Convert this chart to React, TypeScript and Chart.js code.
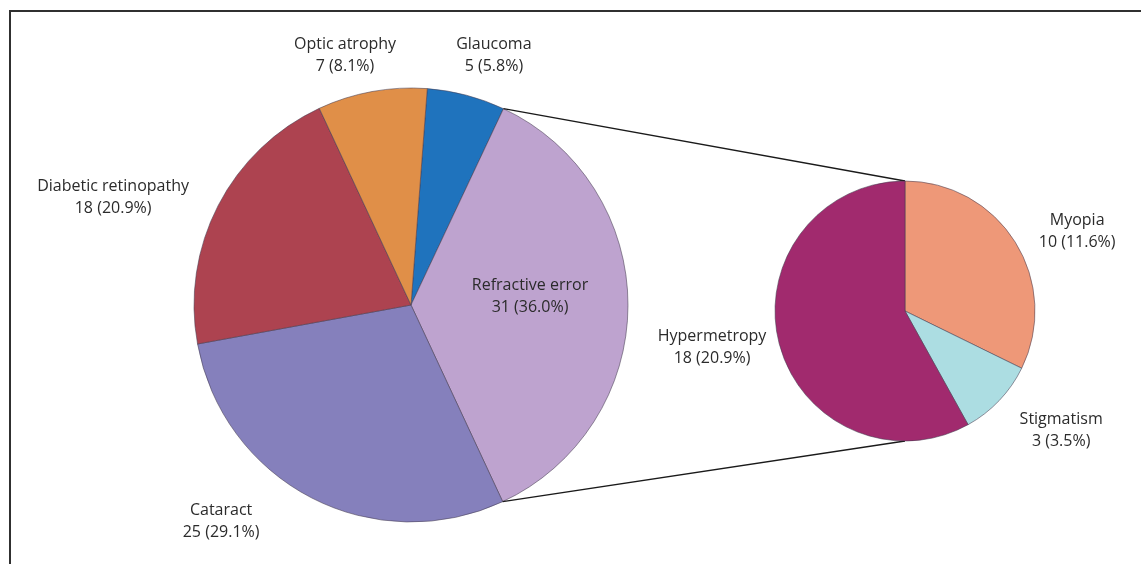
import React, { useEffect, useRef } from "react";
import { Chart, registerables } from "chart.js";

Chart.register(...registerables);

// ---- data ----
const mainLabels = ["Glaucoma", "Refractive error", "Cataract", "Diabetic retinopathy", "Optic atrophy"];
const mainValues = [5, 31, 25, 18, 7];
const mainColors = ["#1f73bd", "#bea3cf", "#8580bc", "#ad4350", "#e08f48"];

const subLabels = ["Myopia", "Stigmatism", "Hypermetropy"];
const subValues = [10, 3, 18];
const subColors = ["#ee9878", "#acdde2", "#a12a6e"];

const splitIndex = 1; // "Refractive error" is broken out into the secondary pie

// label placement: angle (deg, clockwise from top) and distance (× radius) from pie centre
const mainLabelAngle = [18.4, 85.7, 221.3, 289.9, 345.2];
const mainLabelDist = [1.21, 0.55, 1.326, 1.46, 1.19];
const subLabelAngle = [65.1, 127.3, 259.4];
const subLabelDist = [1.46, 1.51, 1.51];

const W = 1141;
const H = 564;
const FONT = "'Open Sans', 'DejaVu Sans', sans-serif";

const total = mainValues.reduce((a, b) => a + b, 0);
const fmt = (v: number) => `${v} (${((v / total) * 100).toFixed(1)}%)`;

function labelPlugin(id: string, labels: string[], values: number[], angles: number[], dists: number[]) {
  return {
    id,
    afterDatasetsDraw(chart: any) {
      const meta = chart.getDatasetMeta(0);
      const arc = meta.data[0];
      if (!arc) return;
      const { x, y, outerRadius } = arc.getProps(["x", "y", "outerRadius"], true);
      const ctx = chart.ctx;
      ctx.save();
      ctx.font = `16px ${FONT}`;
      ctx.fillStyle = "#2b2b2b";
      ctx.textAlign = "center";
      ctx.textBaseline = "middle";
      labels.forEach((lab, i) => {
        const a = (angles[i] * Math.PI) / 180;
        const cx = x + Math.sin(a) * outerRadius * dists[i];
        const cy = y - Math.cos(a) * outerRadius * dists[i];
        ctx.fillText(lab, cx, cy - 11);
        ctx.fillText(fmt(values[i]), cx, cy + 11);
      });
      ctx.restore();
    },
  };
}

export default function App() {
  const mainRef = useRef<HTMLCanvasElement>(null);
  const subRef = useRef<HTMLCanvasElement>(null);

  useEffect(() => {
    const mainChart = new Chart(mainRef.current!, {
      type: "pie",
      data: {
        labels: mainLabels,
        datasets: [
          {
            data: mainValues,
            backgroundColor: mainColors,
            borderColor: "rgba(70,60,80,0.55)",
            borderWidth: 1,
          },
        ],
      },
      options: {
        responsive: false,
        animation: false,
        rotation: 4.3,
        radius: 217,
        layout: { padding: { left: 0, right: 319, top: 46, bottom: 0 } },
        plugins: { legend: { display: false }, tooltip: { enabled: false } },
      },
      plugins: [labelPlugin("mainLabels", mainLabels, mainValues, mainLabelAngle, mainLabelDist)],
    });

    const connector = {
      id: "connector",
      beforeDatasetsDraw(chart: any) {
        const mArc: any = mainChart.getDatasetMeta(0).data[splitIndex];
        const sArc: any = chart.getDatasetMeta(0).data[0];
        if (!mArc || !sArc) return;
        const m = mArc.getProps(["x", "y", "startAngle", "endAngle", "outerRadius"], true);
        const s = sArc.getProps(["x", "y", "outerRadius"], true);
        const ctx = chart.ctx;
        ctx.save();
        ctx.strokeStyle = "#1a1a1a";
        ctx.lineWidth = 1.3;
        ctx.beginPath();
        ctx.moveTo(m.x + Math.cos(m.startAngle) * m.outerRadius, m.y + Math.sin(m.startAngle) * m.outerRadius);
        ctx.lineTo(s.x, s.y - s.outerRadius);
        ctx.moveTo(m.x + Math.cos(m.endAngle) * m.outerRadius, m.y + Math.sin(m.endAngle) * m.outerRadius);
        ctx.lineTo(s.x, s.y + s.outerRadius);
        ctx.stroke();
        ctx.restore();
      },
    };

    const subChart = new Chart(subRef.current!, {
      type: "pie",
      data: {
        labels: subLabels,
        datasets: [
          {
            data: subValues,
            backgroundColor: subColors,
            borderColor: "rgba(70,60,80,0.55)",
            borderWidth: 1,
          },
        ],
      },
      options: {
        responsive: false,
        animation: false,
        rotation: 0,
        radius: 130,
        layout: { padding: { left: 669, right: 0, top: 58, bottom: 0 } },
        plugins: { legend: { display: false }, tooltip: { enabled: false } },
      },
      plugins: [connector, labelPlugin("subLabels", subLabels, subValues, subLabelAngle, subLabelDist)],
    });

    return () => {
      subChart.destroy();
      mainChart.destroy();
    };
  }, []);

  return (
    <div style={{ position: "fixed", left: 0, top: 0, width: W, height: H, background: "#fff", overflow: "hidden" }}>
      <div
        style={{
          position: "absolute",
          left: 9,
          top: 10,
          width: W,
          height: H,
          borderTop: "2px solid #303030",
          borderLeft: "2px solid #303030",
          boxSizing: "border-box",
        }}
      />
      <canvas ref={mainRef} width={W} height={H} style={{ position: "absolute", left: 0, top: 0 }} />
      <canvas ref={subRef} width={W} height={H} style={{ position: "absolute", left: 0, top: 0 }} />
    </div>
  );
}
